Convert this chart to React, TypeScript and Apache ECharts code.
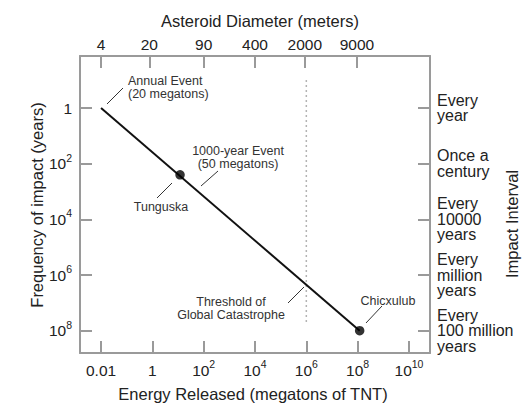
import { useEffect, useRef } from 'react';
import * as echarts from 'echarts';

// energy released (megatons of TNT) vs. impact interval (years)
const trendEnergy = [0.01, 1.2e8];
const trendYears = [1, 1e8];

const eventNames = ['Tunguska', 'Chicxulub'];
const eventEnergy = [12, 1.2e8];
const eventYears = [250, 1e8];

const thresholdEnergy = 1e6;
const thresholdYears = [0.1, 5.6e7];

// tick positions are powers of ten (exponents)
const energyTicks = [-2, 0, 2, 4, 6, 8, 10];
const energyLabels = ['0.01', '1', '10{sup|2}', '10{sup|4}', '10{sup|6}', '10{sup|8}', '10{sup|10}'];
const diameterTicks = [-2, -0.12, 2, 4, 5.94, 7.97];
const diameterLabels = ['4', '20', '90', '400', '2000', '9000'];
const yearTicks = [0, 2, 4, 6, 8];
const yearLabels = ['1', '10{sup|2}', '10{sup|4}', '10{sup|6}', '10{sup|8}'];
const intervalLabels = [
  'Every\nyear',
  'Once a\ncentury',
  'Every\n10000\nyears',
  'Every\nmillion\nyears',
  'Every\n100 million\nyears',
];

const FONT = '"Liberation Sans", Arial, Helvetica, sans-serif';
const FRAME = '#9a9a9a';
const INK = '#222';
const NOTE = '#333';

const labelFor = (ticks: number[], labels: string[]) => (v: number) => {
  const i = ticks.findIndex((t) => Math.abs(t - v) < 1e-6);
  return i < 0 ? '' : labels[i];
};

const sup = { fontSize: 10.5, lineHeight: 10, padding: [0, 0, 12, 0], color: INK, fontFamily: FONT };

const tickStyle = (values: number[]) => ({
  show: true,
  inside: true,
  length: 12,
  customValues: values,
  lineStyle: { color: FRAME, width: 2 },
});

const axisLine = { show: true, onZero: false, lineStyle: { color: FRAME, width: 2 } };

export default function App() {
  const chartRef = useRef<HTMLDivElement>(null);

  useEffect(() => {
    if (!chartRef.current) return;
    const chart = echarts.init(chartRef.current, null, { renderer: 'svg' });
    const lg = Math.log10;

    const noteText = (text: string, x: number, y: number, align: 'left' | 'center') => ({
      type: 'text',
      x,
      y,
      silent: true,
      style: {
        text,
        fill: NOTE,
        font: `12.5px ${FONT}`,
        lineHeight: 12.5,
        align,
        verticalAlign: 'top',
      },
    });
    const leader = (x1: number, y1: number, x2: number, y2: number) => ({
      type: 'line',
      silent: true,
      shape: { x1, y1, x2, y2 },
      style: { stroke: NOTE, lineWidth: 1 },
    });
    const title = (text: string, x: number, y: number, rotation = 0) => ({
      type: 'text',
      x,
      y,
      rotation,
      silent: true,
      style: {
        text,
        fill: INK,
        font: `16.5px ${FONT}`,
        align: 'center',
        verticalAlign: 'middle',
      },
    });

    const option: echarts.EChartsOption = {
      animation: false,
      backgroundColor: '#fff',
      grid: { left: 80, right: 95, top: 56, bottom: 57 },
      xAxis: [
        {
          type: 'value',
          position: 'bottom',
          min: -2.82,
          max: 10.82,
          axisLine,
          splitLine: { show: false },
          axisTick: tickStyle(energyTicks),
          axisLabel: {
            customValues: energyTicks,
            formatter: labelFor(energyTicks, energyLabels),
            margin: 5,
            fontSize: 15.5,
            lineHeight: 24,
            color: INK,
            fontFamily: FONT,
            rich: { sup },
          },
        },
        {
          type: 'value',
          position: 'top',
          min: -2.82,
          max: 10.82,
          axisLine,
          splitLine: { show: false },
          axisTick: tickStyle(diameterTicks),
          axisLabel: {
            customValues: diameterTicks,
            formatter: labelFor(diameterTicks, diameterLabels),
            margin: 4,
            fontSize: 15.5,
            lineHeight: 16,
            color: INK,
            fontFamily: FONT,
          },
        },
      ],
      yAxis: [
        {
          type: 'value',
          position: 'left',
          inverse: true,
          min: -1.87,
          max: 8.8,
          axisLine,
          splitLine: { show: false },
          axisTick: tickStyle(yearTicks),
          axisLabel: {
            customValues: yearTicks,
            formatter: labelFor(yearTicks, yearLabels),
            margin: 8,
            fontSize: 15.5,
            lineHeight: 24,
            color: INK,
            fontFamily: FONT,
            rich: { sup },
          },
        },
        {
          type: 'value',
          position: 'right',
          inverse: true,
          min: -1.87,
          max: 8.8,
          axisLine,
          splitLine: { show: false },
          axisTick: tickStyle(yearTicks),
          axisLabel: {
            customValues: yearTicks,
            formatter: labelFor(yearTicks, intervalLabels),
            margin: 7,
            fontSize: 16,
            lineHeight: 15.5,
            align: 'left',
            color: INK,
            fontFamily: FONT,
          },
        },
      ],
      series: [
        {
          name: 'Impact frequency',
          type: 'line',
          xAxisIndex: 0,
          yAxisIndex: 0,
          symbol: 'none',
          silent: true,
          lineStyle: { color: '#111', width: 2 },
          data: trendEnergy.map((e, i) => [lg(e), lg(trendYears[i])]),
          z: 3,
        },
        {
          name: 'Threshold of Global Catastrophe',
          type: 'line',
          xAxisIndex: 0,
          yAxisIndex: 0,
          symbol: 'none',
          silent: true,
          lineStyle: { color: '#9a9a9a', width: 1.5, type: [1.5, 3.5] },
          data: thresholdYears.map((y) => [lg(thresholdEnergy), lg(y)]),
          z: 2,
        },
        {
          name: 'Events',
          type: 'scatter',
          xAxisIndex: 0,
          yAxisIndex: 0,
          symbolSize: 9.5,
          silent: true,
          itemStyle: { color: '#000' },
          data: eventNames.map((n, i) => ({ name: n, value: [lg(eventEnergy[i]), lg(eventYears[i])] })),
          z: 4,
        },
      ],
      graphic: [
        title('Asteroid Diameter (meters)', 260, 21),
        title('Energy Released (megatons of TNT)', 253, 394),
        title('Frequency of impact (years)', 37, 205, Math.PI / 2),
        title('Impact Interval', 512, 224, Math.PI / 2),

        noteText('Annual Event\n(20 megatons)', 128, 75, 'left'),
        leader(107, 104, 123, 88),
        noteText('1000-year Event\n(50 megatons)', 238, 145, 'center'),
        leader(201, 186, 218, 171),
        noteText('Tunguska', 161, 201, 'center'),
        leader(157, 198, 172, 183),
        noteText('Threshold of\nGlobal Catastrophe', 231, 296, 'center'),
        leader(288, 303, 304, 287),
        noteText('Chicxulub', 388, 295, 'center'),
        leader(366, 323, 382, 306),
      ],
    };

    chart.setOption(option);
    return () => {
      chart.dispose();
    };
  }, []);

  return (
    <div
      ref={chartRef}
      style={{ position: 'fixed', left: 0, top: 0, width: 525, height: 410 }}
    />
  );
}
